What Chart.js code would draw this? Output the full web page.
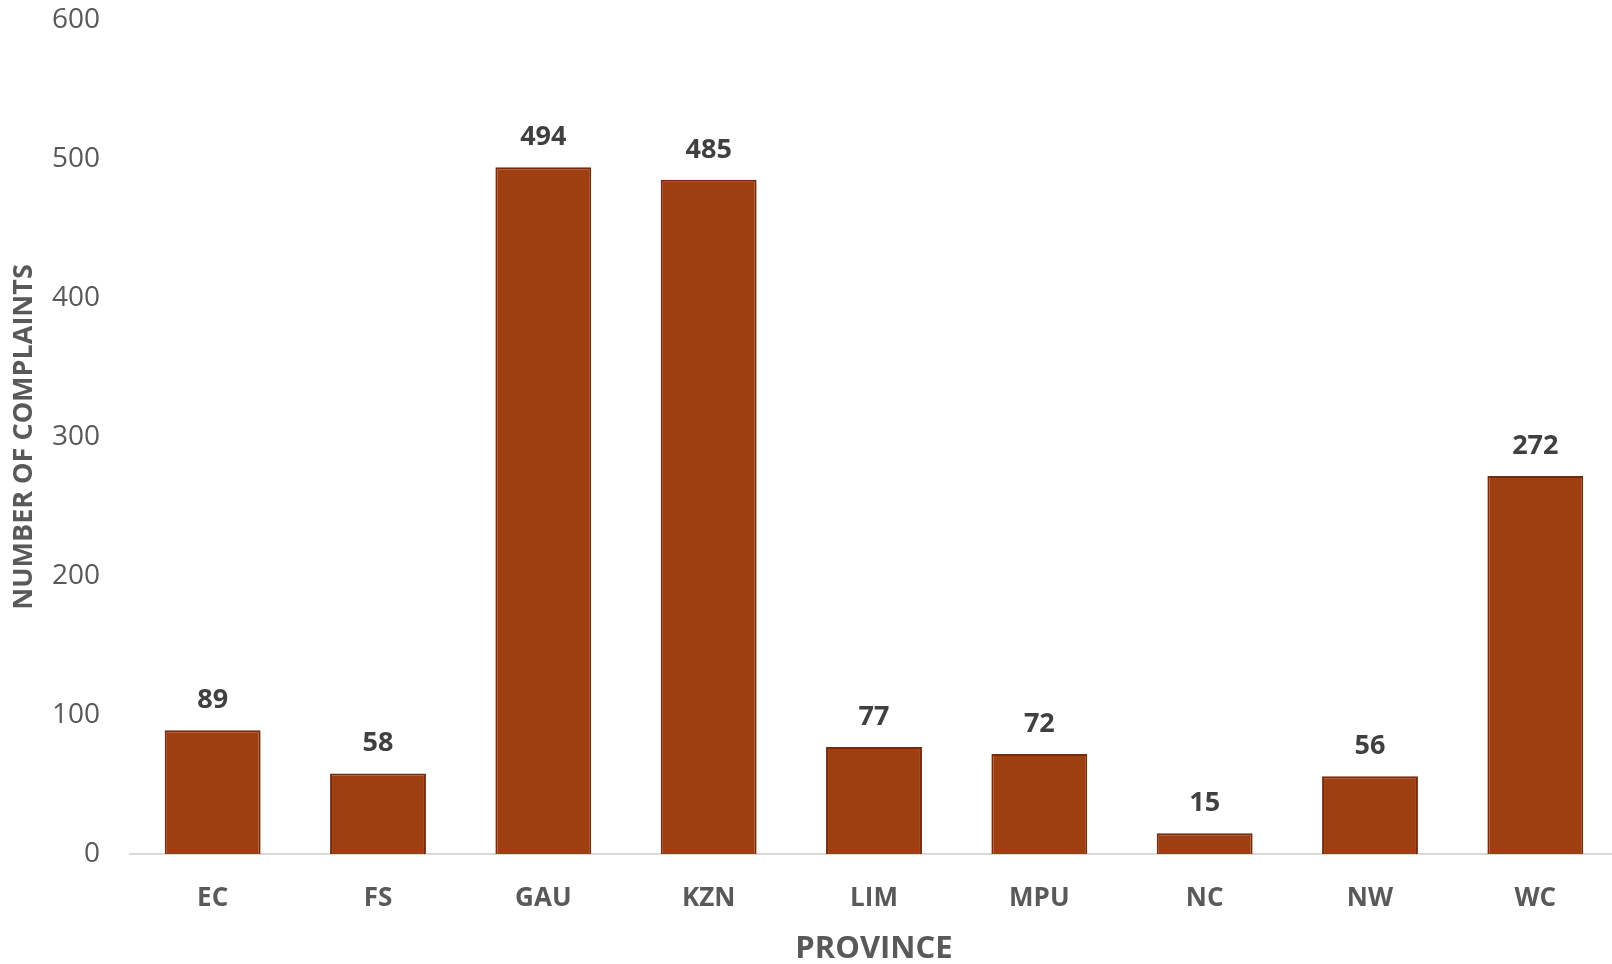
<!DOCTYPE html>
<html lang="en">
<head>
<meta charset="UTF-8">
<script src="https://cdn.jsdelivr.net/npm/chart.js"></script>
<title>Complaints by province</title>
<style>
    html, body { margin: 0; padding: 0; background: #fff; overflow: hidden; }
    #box { width: 1612px; height: 964px; overflow: hidden; }
</style>
<script>
    // provinces and number of complaints
    const provinces = ['EC', 'FS', 'GAU', 'KZN', 'LIM', 'MPU', 'NC', 'NW', 'WC'];
    const complaints = [89, 58, 494, 485, 77, 72, 15, 56, 272];
    const yTicks = [0, 100, 200, 300, 400, 500, 600];

    const FONT = "'Open Sans', 'Liberation Sans', sans-serif";

    // values above each bar
    const barLabels = {
        id: 'barLabels',
        afterDatasetsDraw(chart) {
            const ctx = chart.ctx;
            const meta = chart.getDatasetMeta(0);
            ctx.save();
            ctx.font = 'bold 27px ' + FONT;
            ctx.fillStyle = '#404040';
            ctx.textAlign = 'center';
            ctx.textBaseline = 'middle';
            meta.data.forEach(function (bar, i) {
                ctx.fillText(String(complaints[i]), bar.x, bar.y - 30);
            });
            ctx.restore();
        }
    };

    window.onload = function () {
        const ctx = document.getElementById('myChart');
        new Chart(ctx, {
            type: 'bar',
            data: {
                labels: provinces,
                datasets: [{
                    data: complaints,
                    backgroundColor: '#9e3f12',
                    borderColor: '#7a2a0c',
                    borderWidth: 2,
                    barPercentage: 0.58,
                    categoryPercentage: 1
                }]
            },
            options: {
                responsive: false,
                animation: false,
                layout: { padding: { top: 20, right: 0, left: 0, bottom: 0 } },
                plugins: {
                    legend: { display: false },
                    tooltip: { enabled: false }
                },
                scales: {
                    x: {
                        grid: { display: false },
                        border: { display: true, color: '#d9d9d9', width: 2 },
                        ticks: {
                            color: '#595959',
                            font: { family: FONT, size: 26, weight: 'bold' },
                            padding: 21
                        },
                        title: {
                            display: true,
                            text: 'PROVINCE',
                            color: '#595959',
                            font: { family: FONT, size: 31, weight: 'bold' },
                            padding: { top: 6, bottom: -4 }
                        },
                        afterFit: function (scale) {
                            scale.height = 110;
                            scale.paddingLeft = 0;
                            scale.paddingRight = 0;
                        }
                    },
                    y: {
                        min: 0,
                        max: 600,
                        afterBuildTicks: function (scale) {
                            scale.ticks = yTicks.map(v => ({ value: v }));
                        },
                        grid: { display: false },
                        border: { display: false },
                        ticks: {
                            color: '#595959',
                            font: { family: FONT, size: 28 },
                            padding: 22
                        },
                        title: {
                            display: true,
                            text: 'NUMBER OF COMPLAINTS',
                            color: '#595959',
                            font: { family: FONT, size: 27, weight: 'bold' },
                            padding: { top: 8, bottom: 0 }
                        },
                        afterFit: function (scale) {
                            scale.width = 130;
                            scale.paddingTop = 0;
                            scale.paddingBottom = 0;
                        }
                    }
                }
            },
            plugins: [barLabels]
        });
    };
</script>
</head>
<body>
<div id="box">
    <canvas id="myChart" width="1618" height="964"></canvas>
</div>
</body>
</html>
